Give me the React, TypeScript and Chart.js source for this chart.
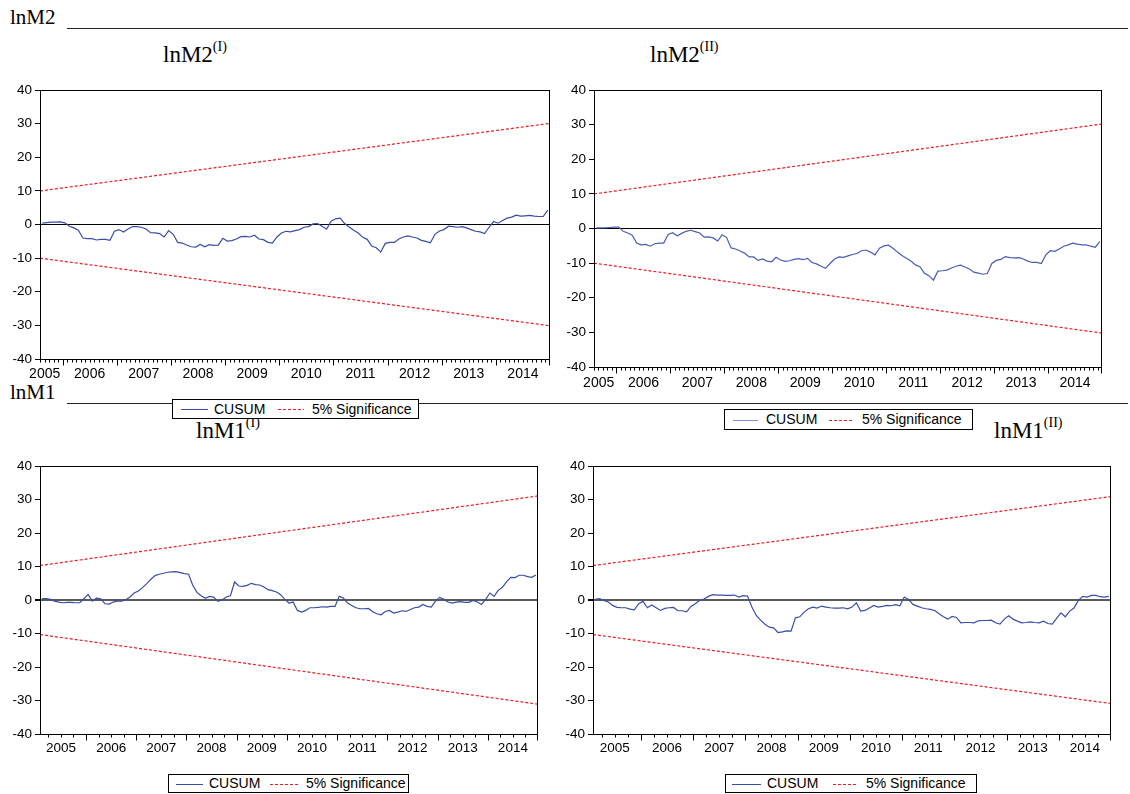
import React, { useEffect, useRef } from 'react';
import { Chart, registerables } from 'chart.js';

Chart.register(...registerables);

// ---------------- DATA ----------------
const yearLabels = ['2005', '2006', '2007', '2008', '2009', '2010', '2011', '2012', '2013', '2014'];
const yTicks = [-40, -30, -20, -10, 0, 10, 20, 30, 40];

// lnM2 (I): CUSUM, monthly 2005M08 - 2014M12
const lnM2_I_cusum = [
  0.4, 0.6, 0.7, 0.7, 0.8, 0.5, -0.5, -1.0, -1.7, -4.0,
  -4.2, -4.2, -4.6, -4.4, -4.4, -4.7, -2.0, -1.5, -2.2, -1.3,
  -0.6, -0.6, -0.8, -1.3, -2.4, -2.5, -2.7, -3.7, -1.8, -2.9,
  -5.3, -5.5, -6.1, -6.6, -6.7, -5.9, -6.6, -6.0, -6.2, -6.1,
  -4.1, -4.9, -4.8, -4.3, -3.6, -3.5, -3.7, -3.2, -4.3, -4.5,
  -5.3, -5.5, -3.7, -2.5, -2.0, -2.2, -1.8, -1.5, -0.8,
  -0.6, 0.2, 0.3, -0.5, -1.4, 1.0, 1.7, 1.9, 0.3, -0.7,
  -1.7, -2.5, -3.8, -4.4, -6.4, -6.9, -8.2, -5.6, -5.3, -5.3,
  -4.3, -3.7, -3.4, -3.7, -4.0, -4.7, -5.0, -5.4, -2.9, -1.9,
  -1.5, -0.5, -0.6, -0.8, -0.6, -1.0, -1.5, -2.0, -2.2, -2.7,
  -0.8, 0.9, 0.4, 1.2, 1.9, 2.2, 2.8, 2.5, 2.6, 2.7,
  2.5, 2.4, 2.4, 4.3,
];
const lnM2_I_upper = [10.0, 30.1];
const lnM2_I_lower = [-10.0, -30.1];

// lnM2 (II): CUSUM, monthly 2005M08 - 2014M12
const lnM2_II_cusum = [
  0.2, 0.2, 0.2, 0.3, 0.4, 0.4, -0.8, -1.3, -1.9, -4.2,
  -4.7, -4.6, -5.1, -4.4, -4.2, -4.2, -1.7, -1.2, -2.1, -1.4,
  -0.8, -0.5, -0.9, -1.3, -2.5, -2.4, -2.7, -3.6, -1.8, -2.6,
  -5.6, -5.9, -6.5, -7.1, -8.2, -8.2, -9.2, -8.8, -9.4, -9.6,
  -8.3, -9.1, -9.5, -9.3, -8.9, -8.7, -9.0, -8.6, -9.8, -10.2,
  -10.9, -11.5, -10.1, -8.8, -8.2, -8.3, -7.9, -7.5, -7.2, -6.4,
  -6.2, -6.8, -7.6, -5.7, -5.0, -4.8, -5.7, -6.8, -7.8, -8.6,
  -9.4, -10.5, -11.0, -12.9, -13.6, -14.9, -12.3, -12.2, -12.0, -11.4,
  -10.9, -10.6, -11.1, -11.7, -12.6, -12.9, -13.2, -13.0, -10.1, -9.2,
  -8.9, -8.1, -8.4, -8.5, -8.4, -8.8, -9.4, -9.8, -9.8, -10.1,
  -7.6, -6.4, -6.6, -5.9, -5.1, -4.7, -4.2, -4.5, -4.7, -4.7,
  -5.1, -5.4, -3.8,
];
const lnM2_II_upper = [10.0, 30.2];
const lnM2_II_lower = [-10.0, -30.2];

// lnM1 (I): CUSUM, monthly 2005M02 - 2014M12
const lnM1_I_cusum = [
  0.4, 0.4, 0.2, -0.3, -0.6, -0.8, -0.7, -0.7, -0.8, -0.8,
  0.4, 1.7, -0.3, 0.6, 0.4, -1.1, -1.2, -0.6, -0.3, -0.3,
  0.1, 0.9, 2.1, 2.7, 3.7, 4.9, 6.2, 7.3, 7.7, 8.0,
  8.3, 8.4, 8.5, 8.2, 7.9, 7.7, 4.4, 2.3, 1.3, 0.5,
  1.1, 0.9, -0.4, 0.0, 0.9, 1.3, 5.4, 4.2, 4.1, 4.4,
  5.0, 4.6, 4.5, 3.9, 3.1, 2.8, 2.4, 1.6, 0.2, -0.9,
  -0.6, -3.1, -3.6, -3.1, -2.3, -2.3, -2.2, -2.0, -2.1, -1.9,
  -1.9, 1.1, 0.6, -0.9, -1.6, -2.3, -2.6, -2.6, -2.5, -3.5,
  -4.1, -4.4, -3.4, -3.1, -3.9, -3.6, -3.2, -3.4, -2.8, -2.3,
  -2.1, -1.3, -1.9, -2.1, -0.3, 0.8, 0.2, -0.6, -0.9, -0.6,
  -0.5, -0.7, -0.7, -0.1, -0.6, -1.3, 0.2, 2.1, 1.1, 2.9,
  3.8, 5.5, 6.8, 6.7, 7.4, 7.4, 7.0, 6.8, 7.5,
];
const lnM1_I_upper = [10.3, 31.1];
const lnM1_I_lower = [-10.3, -31.1];

// lnM1 (II): CUSUM, monthly 2005M02 - 2014M12
const lnM1_II_cusum = [
  0.2, 0.4, -0.1, -0.6, -1.6, -2.2, -2.3, -2.3, -2.7, -2.9,
  -1.1, -0.4, -2.3, -1.5, -2.3, -3.1, -2.5, -2.3, -2.2, -3.2,
  -3.2, -3.5, -1.9, -1.1, -0.1, 0.3, 1.1, 1.6, 1.5, 1.5,
  1.4, 1.4, 1.5, 0.9, 1.3, 1.2, -2.1, -4.6, -6.0, -7.2,
  -8.1, -8.3, -9.7, -9.5, -9.2, -9.3, -5.3, -5.0, -3.6, -2.6,
  -2.1, -2.4, -1.8, -2.1, -2.3, -2.4, -2.4, -2.3, -2.6, -2.1,
  -0.8, -3.3, -3.1, -2.4, -1.6, -2.1, -1.9, -1.6, -1.7, -1.4,
  -1.7, 0.9, 0.2, -1.3, -1.8, -2.3, -2.6, -2.8, -3.1, -4.1,
  -5.0, -5.7, -4.9, -5.2, -6.8, -6.7, -6.7, -6.8, -6.2, -6.1,
  -6.1, -6.0, -6.8, -7.2, -5.7, -4.7, -5.7, -6.3, -6.8, -6.7,
  -6.5, -6.7, -6.8, -6.3, -7.0, -7.2, -5.5, -3.8, -5.0, -3.3,
  -2.4, -0.1, 1.1, 0.9, 1.4, 1.4, 1.0, 0.9, 1.1,
];
const lnM1_II_upper = [10.3, 30.9];
const lnM1_II_lower = [-10.3, -30.9];

// sample starts (year, month)
const topStart = [2005, 8];
const bottomStart = [2005, 2];
const sampleEnd = 2015; // end of 2014M12

// ---------------- HELPERS ----------------
function monthCenters(startYear: number, startMonth: number, count: number): number[] {
  const out: number[] = [];
  for (let i = 0; i < count; i++) out.push(startYear + (startMonth - 1 + i + 0.5) / 12);
  return out;
}

const SANS = "'Liberation Sans', Arial, Helvetica, sans-serif";
const SERIF = "'Liberation Serif', 'Times New Roman', serif";
const RED = '#ec1c24';

type Panel = {
  canvas: { left: number; top: number; width: number; height: number };
  padTop: number;
  padRight: number;
  yW: number;
  xH: number;
  xMin: number;
  xMax: number;
  minorStep: number;
  labelPos: number[];
  labelDy: number;
  labelFont: number;
  cusum: number[];
  upper: number[];
  lower: number[];
  lineColor: string;
  zeroColor: string;
  zeroWidth: number;
  startYM: number[];
};

function CusumChart({ p }: { p: Panel }) {
  const ref = useRef<HTMLCanvasElement | null>(null);
  useEffect(() => {
    if (!ref.current) return;
    const xs = monthCenters(p.startYM[0], p.startYM[1], p.cusum.length);
    const frame = {
      id: 'frame' + p.canvas.left + '_' + p.canvas.top,
      afterDraw(chart: any) {
        const { ctx, chartArea: a } = chart;
        const x = chart.scales.x;
        ctx.save();
        ctx.strokeStyle = '#000';
        ctx.lineWidth = 1;
        ctx.strokeRect(Math.round(a.left) + 0.5, Math.round(a.top) + 0.5,
          Math.round(a.right - a.left) - 1, Math.round(a.bottom - a.top));
        ctx.beginPath();
        const first = Math.ceil(p.xMin / p.minorStep - 1e-6);
        for (let k = first; k * p.minorStep <= p.xMax + 1e-6; k++) {
          const v = k * p.minorStep;
          const px = Math.min(Math.round(x.getPixelForValue(v)) + 0.5, a.right - 0.5);
          const isMajor = Math.abs(v - Math.round(v)) < 1e-6;
          const len = isMajor ? 6 : 3;
          const y0 = Math.round(a.bottom) + 0.5;
          ctx.moveTo(px, y0);
          ctx.lineTo(px, y0 + len);
        }
        ctx.stroke();
        ctx.fillStyle = '#000';
        ctx.font = `${p.labelFont}px ${SANS}`;
        ctx.textAlign = 'center';
        ctx.textBaseline = 'middle';
        yearLabels.forEach((lab, i) => {
          ctx.fillText(lab, x.getPixelForValue(p.labelPos[i]), a.bottom + p.labelDy);
        });
        ctx.restore();
      },
    };
    const chart = new Chart(ref.current, {
      type: 'line',
      data: {
        datasets: [
          {
            label: 'CUSUM',
            data: xs.map((x, i) => ({ x, y: p.cusum[i] })),
            borderColor: p.lineColor,
            borderWidth: 1.2,
            pointRadius: 0,
            fill: false,
          },
          {
            label: '5% Significance',
            data: [{ x: p.xMin, y: p.upper[0] }, { x: p.xMax, y: p.upper[1] }],
            borderColor: RED,
            borderWidth: 1.2,
            borderDash: [3, 2],
            pointRadius: 0,
            fill: false,
          },
          {
            label: '5% Significance lower',
            data: [{ x: p.xMin, y: p.lower[0] }, { x: p.xMax, y: p.lower[1] }],
            borderColor: RED,
            borderWidth: 1.2,
            borderDash: [3, 2],
            pointRadius: 0,
            fill: false,
          },
        ],
      },
      options: {
        animation: false,
        responsive: false,
        maintainAspectRatio: false,
        layout: { padding: { left: 0, top: p.padTop, right: p.padRight, bottom: 0 } },
        plugins: { legend: { display: false }, tooltip: { enabled: false } },
        elements: { point: { radius: 0 }, line: { tension: 0 } },
        scales: {
          x: {
            type: 'linear',
            min: p.xMin,
            max: p.xMax,
            ticks: { display: false },
            grid: { display: false },
            border: { display: false },
            afterFit: (s: any) => { s.height = p.xH; },
          },
          y: {
            type: 'linear',
            min: -40,
            max: 40,
            afterBuildTicks: (s: any) => { s.ticks = yTicks.map((v) => ({ value: v })); },
            ticks: { color: '#000', font: { family: SANS, size: 13.5 }, padding: 3 },
            grid: {
              drawOnChartArea: true,
              color: (c: any) => (c.tick && c.tick.value === 0 ? p.zeroColor : 'rgba(0,0,0,0)'),
              lineWidth: (c: any) => (c.tick && c.tick.value === 0 ? p.zeroWidth : 1),
              tickColor: '#000',
              tickLength: 5,
            },
            border: { display: false },
            afterFit: (s: any) => { s.width = p.yW; },
          },
        },
      } as any,
      plugins: [frame],
    });
    return () => chart.destroy();
  }, [p]);
  return (
    <canvas
      ref={ref}
      width={p.canvas.width}
      height={p.canvas.height}
      style={{ position: 'absolute', left: p.canvas.left, top: p.canvas.top, width: p.canvas.width, height: p.canvas.height }}
    />
  );
}

const topLabelPos = [2005.67, 2006.5, 2007.5, 2008.5, 2009.5, 2010.5, 2011.5, 2012.5, 2013.5, 2014.5];
const botLabelPos = [2005.5, 2006.5, 2007.5, 2008.5, 2009.5, 2010.5, 2011.5, 2012.5, 2013.5, 2014.5];

const panels: Panel[] = [
  {
    canvas: { left: 0, top: 79, width: 560, height: 306 }, padTop: 10, padRight: 10, yW: 40, xH: 26,
    xMin: topStart[0] + (topStart[1] - 1) / 12, xMax: sampleEnd, minorStep: 1 / 12,
    labelPos: topLabelPos, labelDy: 15.5, labelFont: 14,
    cusum: lnM2_I_cusum, upper: lnM2_I_upper, lower: lnM2_I_lower,
    lineColor: '#3a4da6', zeroColor: '#000', zeroWidth: 1, startYM: topStart,
  },
  {
    canvas: { left: 554, top: 79, width: 576, height: 316 }, padTop: 10, padRight: 28, yW: 40, xH: 28,
    xMin: topStart[0] + (topStart[1] - 1) / 12, xMax: sampleEnd, minorStep: 1 / 12,
    labelPos: topLabelPos, labelDy: 16, labelFont: 14,
    cusum: lnM2_II_cusum, upper: lnM2_II_upper, lower: lnM2_II_lower,
    lineColor: '#4a5db4', zeroColor: '#000', zeroWidth: 1, startYM: topStart,
  },
  {
    canvas: { left: 0, top: 455, width: 560, height: 305 }, padTop: 10, padRight: 22, yW: 40, xH: 26,
    xMin: bottomStart[0] + (bottomStart[1] - 1) / 12, xMax: sampleEnd, minorStep: 1 / 4,
    labelPos: botLabelPos, labelDy: 14.5, labelFont: 13.5,
    cusum: lnM1_I_cusum, upper: lnM1_I_upper, lower: lnM1_I_lower,
    lineColor: '#3a4da6', zeroColor: '#5a5a5a', zeroWidth: 2, startYM: bottomStart,
  },
  {
    canvas: { left: 553, top: 455, width: 577, height: 305 }, padTop: 10, padRight: 19, yW: 40, xH: 26,
    xMin: bottomStart[0] + (bottomStart[1] - 1) / 12, xMax: sampleEnd, minorStep: 1 / 4,
    labelPos: botLabelPos, labelDy: 14.5, labelFont: 13.5,
    cusum: lnM1_II_cusum, upper: lnM1_II_upper, lower: lnM1_II_lower,
    lineColor: '#3a4da6', zeroColor: '#5a5a5a', zeroWidth: 2, startYM: bottomStart,
  },
];

type LegendSpec = {
  left: number; top: number; width: number; height: number;
  blue: [number, number]; cusumX: number; red: [number, number]; sigX: number; blueColor: string;
};

const legends: LegendSpec[] = [
  { left: 172, top: 399, width: 247, height: 20, blue: [8, 35], cusumX: 41, red: [105, 131], sigX: 139, blueColor: '#3a4da6' },
  { left: 724, top: 409, width: 249, height: 21, blue: [8, 33], cusumX: 41, red: [104, 129], sigX: 137, blueColor: '#7d8dd2' },
  { left: 168, top: 774, width: 241, height: 19, blue: [7, 34], cusumX: 40, red: [101, 129], sigX: 137, blueColor: '#3a4da6' },
  { left: 725, top: 774, width: 252, height: 19, blue: [6, 35], cusumX: 41, red: [107, 132], sigX: 140, blueColor: '#3a4da6' },
];

function Legend({ s }: { s: LegendSpec }) {
  const mid = Math.round((s.height - 2) / 2);
  return (
    <div style={{
      position: 'absolute', left: s.left, top: s.top, width: s.width - 2, height: s.height - 2,
      border: '1px solid #000', background: '#fff',
    }}>
      <div style={{ position: 'absolute', left: s.blue[0], top: mid, width: s.blue[1] - s.blue[0], height: 0, borderTop: `1px solid ${s.blueColor}` }} />
      <span style={{ position: 'absolute', left: s.cusumX, top: 0, lineHeight: `${s.height - 2}px`, fontFamily: SANS, fontSize: 14, color: '#000', whiteSpace: 'nowrap' }}>CUSUM</span>
      <svg style={{ position: 'absolute', left: s.red[0], top: mid, display: 'block' }} width={s.red[1] - s.red[0]} height={1} shapeRendering="crispEdges">
        <line x1={0} y1={0.5} x2={s.red[1] - s.red[0]} y2={0.5} stroke={RED} strokeWidth={1} strokeDasharray="3,2" />
      </svg>
      <span style={{ position: 'absolute', left: s.sigX, top: 0, lineHeight: `${s.height - 2}px`, fontFamily: SANS, fontSize: 14, color: '#000', whiteSpace: 'nowrap' }}>5% Significance</span>
    </div>
  );
}

function Title({ x, baseline, main, sup, size }: { x: number; baseline: number; main: string; sup?: string; size: number }) {
  return (
    <div style={{
      position: 'absolute', left: x, top: baseline - 0.8375 * size, fontFamily: SERIF, fontSize: size,
      lineHeight: `${size}px`, color: '#000', whiteSpace: 'nowrap',
    }}>
      {main}
      {sup ? <span style={{ fontSize: 14, verticalAlign: 11, lineHeight: 0 }}>{sup}</span> : null}
    </div>
  );
}

export default function App() {
  return (
    <div style={{ position: 'absolute', left: 0, top: 0, width: 1130, height: 794, background: '#fff', overflow: 'hidden' }}>
      <Title x={10} baseline={25} main="lnM2" size={21} />
      <div style={{ position: 'absolute', left: 67, top: 28, width: 1061, height: 0, borderTop: '1px solid #222' }} />
      <Title x={163} baseline={62} main="lnM2" sup="(I)" size={23} />
      <Title x={650} baseline={62} main="lnM2" sup="(II)" size={23} />

      <Title x={10} baseline={400} main="lnM1" size={21} />
      <div style={{ position: 'absolute', left: 67, top: 403, width: 1061, height: 0, borderTop: '1px solid #222' }} />
      <Title x={196} baseline={438} main="lnM1" sup="(I)" size={23} />
      <Title x={994} baseline={438} main="lnM1" sup="(II)" size={23} />

      {panels.map((p, i) => <CusumChart key={i} p={p} />)}
      {legends.map((s, i) => <Legend key={i} s={s} />)}
    </div>
  );
}
